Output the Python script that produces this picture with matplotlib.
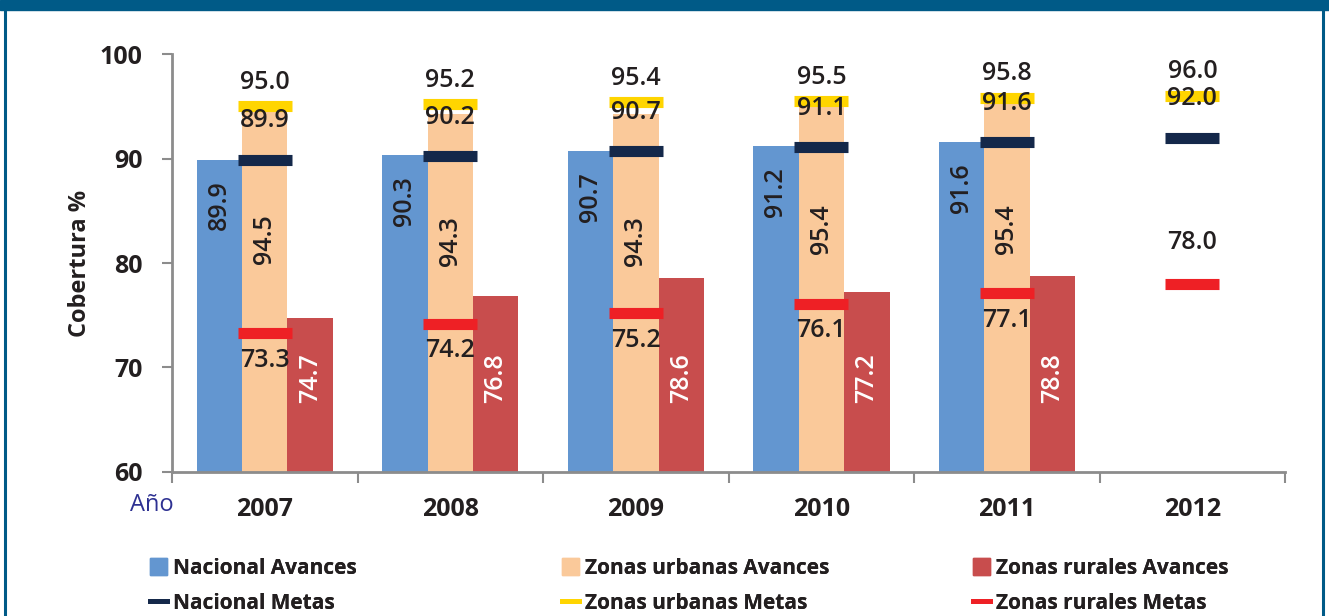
import numpy as np
import matplotlib
matplotlib.use("Agg")
import matplotlib.pyplot as plt
from matplotlib.patches import Patch, Rectangle
from matplotlib.lines import Line2D

years = ["2007", "2008", "2009", "2010", "2011", "2012"]
nacional_avances = [89.9, 90.3, 90.7, 91.2, 91.6, np.nan]
urbanas_avances = [94.5, 94.3, 94.3, 95.4, 95.4, np.nan]
rurales_avances = [74.7, 76.8, 78.6, 77.2, 78.8, np.nan]
nacional_metas = [89.9, 90.2, 90.7, 91.1, 91.6, 92.0]
urbanas_metas = [95.0, 95.2, 95.4, 95.5, 95.8, 96.0]
rurales_metas = [73.3, 74.2, 75.2, 76.1, 77.1, 78.0]
yticks = [60, 70, 80, 90, 100]

C_NAC = "#6396d0"
C_URB = "#fac99a"
C_RUR = "#c84d4d"
C_NACM = "#14284a"
C_URBM = "#ffd500"
C_RURM = "#ee2025"
FRAME = "#005a87"
TXT = "#231f20"

plt.rcParams['font.family'] = ['Open Sans', 'DejaVu Sans']

fig = plt.figure(figsize=(13.29, 6.16), dpi=100)
ax = fig.add_axes([0.1294, 0.2338, 0.8376, 0.6785])

x = np.arange(len(years))
bw = 0.245
base = 60
ax.bar(x - bw, np.array(nacional_avances) - base, bw, bottom=base, color=C_NAC, zorder=2)
ax.bar(x, np.array(urbanas_avances) - base, bw, bottom=base, color=C_URB, zorder=2)
ax.bar(x + bw, np.array(rurales_avances) - base, bw, bottom=base, color=C_RUR, zorder=2)

mw = 0.29
ax.hlines(nacional_metas, x - mw / 2, x + mw / 2, colors=C_NACM, lw=8, zorder=3)
ax.hlines(urbanas_metas, x - mw / 2, x + mw / 2, colors=C_URBM, lw=8, zorder=3)
ax.hlines(rurales_metas, x - mw / 2, x + mw / 2, colors=C_RURM, lw=8, zorder=3)

lab_kw = dict(ha='center', va='center', fontsize=18, fontweight='semibold', color=TXT, zorder=5)
for i in range(len(years)):
    if not np.isnan(nacional_avances[i]):
        ax.text(x[i] - bw, nacional_avances[i] - 4.4, f"{nacional_avances[i]:.1f}", rotation=90, **lab_kw)
    if not np.isnan(urbanas_avances[i]):
        ax.text(x[i], urbanas_avances[i] - 12.2, f"{urbanas_avances[i]:.1f}", rotation=90, **lab_kw)
    if not np.isnan(rurales_avances[i]):
        kw = dict(lab_kw); kw['color'] = 'white'
        ax.text(x[i] + bw, 69.0, f"{rurales_avances[i]:.1f}", rotation=90, **kw)
    ax.text(x[i], urbanas_metas[i] + 2.3, f"{urbanas_metas[i]:.1f}", **lab_kw)
    ax.text(x[i], nacional_metas[i] + 3.7, f"{nacional_metas[i]:.1f}", **lab_kw)
    if np.isnan(rurales_avances[i]):
        ax.text(x[i], rurales_metas[i] + 4.0, f"{rurales_metas[i]:.1f}", **lab_kw)
    else:
        ax.text(x[i], rurales_metas[i] - 2.6, f"{rurales_metas[i]:.1f}", **lab_kw)

ax.set_xlim(-0.5, len(years) - 0.5)
ax.set_ylim(60, 100)
ax.set_yticks(yticks)
ax.set_yticklabels([str(v) for v in yticks], fontsize=18, fontweight='bold', color=TXT)
ax.set_xticks(x)
ax.set_xticklabels(years, fontsize=18, fontweight='bold', color=TXT)
ax.set_xticks(np.arange(-0.5, len(years)), minor=True)
ax.tick_params(axis='x', which='major', length=0, pad=18)
ax.tick_params(axis='x', which='minor', length=8, width=1.5, color='#8c8c8c', direction='out')
ax.tick_params(axis='y', which='major', length=7, width=1.5, color='#8c8c8c', pad=14)
for s in ['top', 'right']:
    ax.spines[s].set_visible(False)
for s in ['left', 'bottom']:
    ax.spines[s].set_color('#8c8c8c')
    ax.spines[s].set_linewidth(2)
ax.set_ylabel("Cobertura %", fontsize=17, fontweight='bold', color=TXT, labelpad=5.5)

fig.text(152 / 1329, 1 - 505 / 616, "Año", fontsize=17, color="#2e3192", ha='center', va='center')

# legends (three columns)
cols = [
    ([Patch(color=C_NAC), Line2D([], [], color=C_NACM, lw=3.5)], ["Nacional Avances", "Nacional Metas"], 150),
    ([Patch(color=C_URB), Line2D([], [], color=C_URBM, lw=3.5)], ["Zonas urbanas Avances", "Zonas urbanas Metas"], 562),
    ([Patch(color=C_RUR), Line2D([], [], color=C_RURM, lw=3.5)], ["Zonas rurales Avances", "Zonas rurales Metas"], 973),
]
for handles, labels, px in cols:
    leg = fig.legend(handles, labels, loc='upper left', bbox_to_anchor=(px / 1329, 1 - 558 / 616),
                     frameon=False, prop={'size': 15, 'weight': 'bold'}, handlelength=0.8,
                     handleheight=0.9, handletextpad=0.3, labelspacing=0.68, borderpad=0,
                     borderaxespad=0)
    for t in leg.get_texts():
        t.set_color(TXT)
    fig.add_artist(leg)

# frame
fig.add_artist(Rectangle((0, 1 - 10 / 616), 1, 10 / 616, transform=fig.transFigure, color=FRAME, zorder=10))
fig.add_artist(Line2D([4.5 / 1329, 4.5 / 1329], [0, 1], transform=fig.transFigure, color=FRAME, lw=2.2))
fig.add_artist(Line2D([1323 / 1329, 1323 / 1329], [0, 1], transform=fig.transFigure, color=FRAME, lw=2.2))

fig.savefig("out.png", dpi=100)
